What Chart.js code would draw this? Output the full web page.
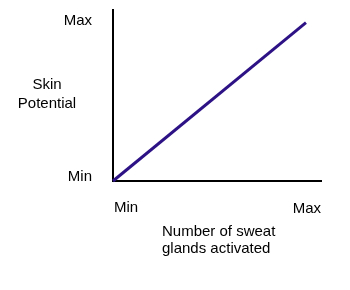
<!DOCTYPE html>
<html>
<head>
<meta charset="utf-8">
<script src="https://cdn.jsdelivr.net/npm/chart.js@4"></script>
<style>
html,body{margin:0;padding:0;background:#fff;}
#wrap{width:350px;height:290px;}
</style>
</head>
<body>
<div id="wrap"><canvas id="c" width="350" height="290"></canvas></div>
<script>
const xValues = [0, 1];
const yValues = [0, 1];
const xTickLabels = ['Min', 'Max'];
const yTickLabels = ['Min', 'Max'];
const yTitle = ['Skin', 'Potential'];
const xTitle = ['Number of sweat', 'glands activated'];

const FONT = '15px "Liberation Sans", Arial, sans-serif';

const labelPlugin = {
  id: 'labels',
  afterDraw(chart) {
    const ctx = chart.ctx;
    const xs = chart.scales.x, ys = chart.scales.y;
    const area = chart.chartArea;
    ctx.save();
    ctx.fillStyle = '#000';
    ctx.font = FONT;
    ctx.textBaseline = 'alphabetic';
    // y tick labels
    ctx.textAlign = 'right';
    ctx.fillText(yTickLabels[0], area.left - 21, ys.getPixelForValue(yValues[0]));
    ctx.fillText(yTickLabels[1], area.left - 21, ys.getPixelForValue(yValues[1]) + 2.5);
    // y title
    ctx.textAlign = 'center';
    const midY = ys.getPixelForValue(0.5);
    ctx.fillText(yTitle[0], 47, midY - 13);
    ctx.fillText(yTitle[1], 47, midY + 6.5);
    // x tick labels
    ctx.textAlign = 'left';
    ctx.fillText(xTickLabels[0], xs.getPixelForValue(xValues[0]) + 1, area.bottom + 31);
    ctx.textAlign = 'right';
    ctx.fillText(xTickLabels[1], area.right, area.bottom + 32);
    // x title
    ctx.textAlign = 'left';
    ctx.fillText(xTitle[0], 162, area.bottom + 55);
    ctx.fillText(xTitle[1], 162, area.bottom + 72);
    ctx.restore();
  }
};

new Chart(document.getElementById('c'), {
  type: 'line',
  data: {
    datasets: [{
      data: xValues.map((x, i) => ({x: x, y: yValues[i]})),
      borderColor: '#2d1285',
      borderWidth: 3,
      pointRadius: 0,
      fill: false,
      tension: 0,
      clip: false
    }]
  },
  options: {
    responsive: false,
    animation: false,
    events: [],
    layout: { padding: { left: 113, right: 29, top: 10, bottom: 109 } },
    plugins: { legend: { display: false }, tooltip: { enabled: false } },
    scales: {
      x: {
        type: 'linear', min: 0, max: 1.078,
        grid: { display: false, drawTicks: false },
        border: { display: true, color: '#000', width: 2 },
        ticks: { display: false }
      },
      y: {
        type: 'linear', min: 0, max: 1.08,
        grid: { display: false, drawTicks: false },
        border: { display: true, color: '#000', width: 2 },
        ticks: { display: false }
      }
    }
  },
  plugins: [labelPlugin]
});
</script>
</body>
</html>
